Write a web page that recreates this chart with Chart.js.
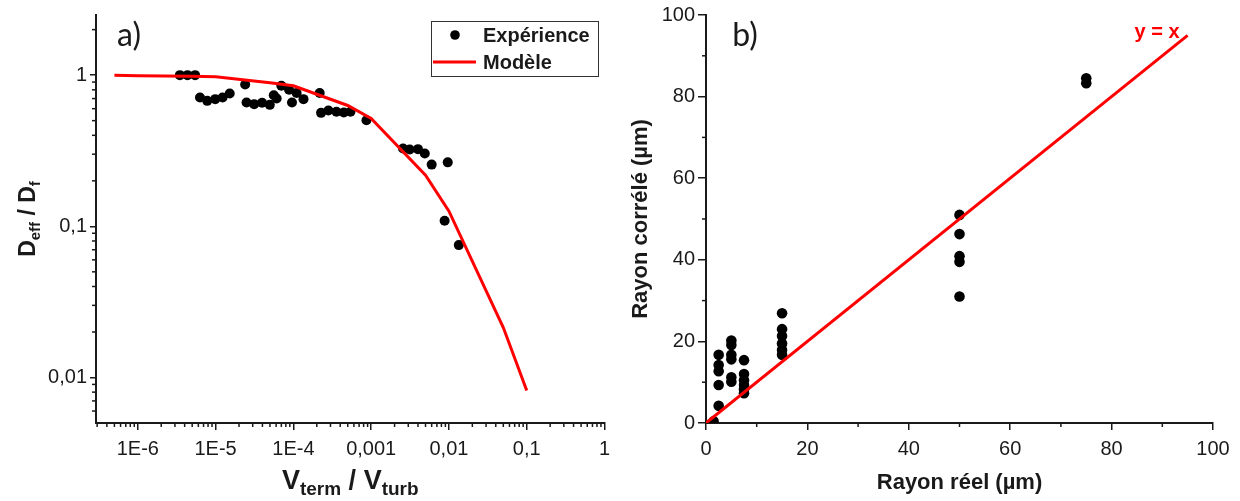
<!DOCTYPE html>
<html><head><meta charset="utf-8">
<script src="https://cdn.jsdelivr.net/npm/chart.js@4.4.1/dist/chart.umd.min.js"></script>
<style>
html,body{margin:0;padding:0;background:#fff;}
#wrap{position:relative;width:1240px;height:501px;overflow:hidden;}
#ca{position:absolute;left:0;top:0;}
#cb{position:absolute;left:620px;top:0;}
</style></head><body>
<div id="wrap">
<canvas id="ca" width="620" height="501"></canvas>
<canvas id="cb" width="620" height="501"></canvas>
</div>
<script>
// ---------- Panel a) data ----------
const expX = [3.47e-6,4.35e-6,5.45e-6,6.3e-6,7.8e-6,9.9e-6,1.23e-5,1.52e-5,2.4e-5,2.5e-5,3.13e-5,3.96e-5,4.98e-5,5.6e-5,6.1e-5,7.0e-5,8.8e-5,9.6e-5,1.10e-4,1.35e-4,2.18e-4,2.27e-4,2.82e-4,3.58e-4,4.45e-4,5.42e-4,8.7e-4,2.57e-3,3.13e-3,4.0e-3,4.89e-3,6.0e-3,8.8e-3,9.65e-3,1.34e-2];
const expY = [1.0,1.0,1.0,0.711,0.676,0.694,0.711,0.756,0.868,0.659,0.643,0.656,0.636,0.737,0.70,0.85,0.80,0.66,0.763,0.694,0.763,0.563,0.583,0.572,0.566,0.572,0.503,0.327,0.322,0.324,0.303,0.256,0.109,0.265,0.0751];
const modelX = [5e-7,1e-6,5e-6,1e-5,5e-5,1e-4,5e-4,1e-3,5e-3,1e-2,5e-2,1e-1];
const modelY = [1.0,0.99,0.985,0.975,0.89,0.85,0.63,0.517,0.218,0.126,0.0214,0.0082];
const aXTickVals = [1e-6,1e-5,1e-4,1e-3,1e-2,1e-1,1];
const aXTickLabels = ['1E-6','1E-5','1E-4','0,001','0,01','0,1','1'];
const aYTickVals = [0.01,0.1,1];
const aYTickLabels = ['0,01','0,1','1'];

// ---------- Panel b) data ----------
const reelX = [1.5,2.5,2.5,2.5,2.5,2.5, 5,5,5,5,5,5, 7.5,7.5,7.5,7.5,7.5,7.5, 15,15,15,15,15,15, 50,50,50,50,50, 75,75];
const correleY = [0.4,16.7,14.2,12.7,9.3,4.2, 20.2,19.1,16.7,15.6,11.2,10.1, 15.4,12.0,10.5,9.3,8.3,7.3, 26.9,23.0,21.3,19.5,17.9,16.7, 51.0,46.3,40.9,39.5,31.0, 84.5,83.3];
const identX = [0,95];
const identY = [0,95];
const bTickVals = [0,20,40,60,80,100];
const bMinorVals = [10,30,50,70,90];

const FONT = "'Liberation Sans', Arial, sans-serif";
const INK = '#1a1a1a';

function logMinor(minExp, maxExp, lo, hi){
  const out=[];
  for(let e=minExp;e<=maxExp;e++) for(let m=2;m<=9;m++){const v=m*Math.pow(10,e); if(v>lo&&v<hi) out.push(v);}
  return out;
}

function minorPlugin(list){
  return {id:'minor', afterDraw(chart){
    const ctx=chart.ctx; ctx.save(); ctx.strokeStyle=INK; ctx.lineWidth=1.5;
    for(const [id,vals,len] of list){
      const s=chart.scales[id];
      for(const v of vals){
        ctx.beginPath();
        if(s.isHorizontal()){const p=s.getPixelForValue(v); ctx.moveTo(p,s.top); ctx.lineTo(p,s.top+len);}
        else{const p=s.getPixelForValue(v); ctx.moveTo(s.right,p); ctx.lineTo(s.right-len,p);}
        ctx.stroke();
      }
    }
    ctx.restore();
  }};
}

// draws text pieces [text,size,dy] sequentially, centred at (cx,cy), optionally rotated
function drawRich(ctx, parts, cx, cy, rot){
  ctx.save();
  ctx.translate(cx,cy); if(rot) ctx.rotate(rot);
  ctx.fillStyle=INK; ctx.textBaseline='alphabetic'; ctx.textAlign='left';
  let w=0; for(const p of parts){ctx.font='bold '+p[1]+'px '+FONT; w+=ctx.measureText(p[0]).width;}
  let x=-w/2;
  for(const p of parts){ctx.font='bold '+p[1]+'px '+FONT; ctx.fillText(p[0],x,p[2]); x+=ctx.measureText(p[0]).width;}
  ctx.restore();
}

const gridOpt = {display:true, drawOnChartArea:false, drawTicks:true, tickLength:7, color:INK, lineWidth:1.5};
const borderOpt = {display:true, color:INK, width:2};
const tickFont = {family:FONT, size:20};

// ---------- Chart a ----------
const annotA = {id:'annotA', afterDraw(chart){
  const ctx=chart.ctx;
  const xs=chart.scales.x, ys=chart.scales.y;
  // axis titles
  drawRich(ctx, [['V',27,0],['term',19,6],[' / ',27,0],['V',27,0],['turb',19,6]], (xs.left+xs.right)/2, 489, 0);
  drawRich(ctx, [['D',23,0],['eff',15,5],[' / ',23,0],['D',23,0],['f',15,5]], 35, (ys.top+ys.bottom)/2, -Math.PI/2);
  // panel letter
  ctx.save(); ctx.fillStyle=INK; ctx.font="32px Lato, 'Open Sans', sans-serif"; ctx.textAlign='center'; ctx.textBaseline='middle';
  ctx.fillText('a)',129,36); ctx.restore();
  // legend
  ctx.save();
  ctx.strokeStyle='#333'; ctx.lineWidth=1; ctx.strokeRect(431.5,21.5,167,55);
  const ds=chart.data.datasets;
  ctx.fillStyle='#000'; ctx.beginPath(); ctx.arc(455,35,4.8,0,Math.PI*2); ctx.fill();
  ctx.strokeStyle='#ff0000'; ctx.lineWidth=3; ctx.beginPath(); ctx.moveTo(433,62); ctx.lineTo(476,62); ctx.stroke();
  ctx.fillStyle=INK; ctx.font='bold 20px '+FONT; ctx.textBaseline='middle'; ctx.textAlign='left';
  ctx.fillText(ds[1].label,483,36); ctx.fillText(ds[0].label,483,63);
  ctx.restore();
}};

new Chart(document.getElementById('ca'), {
  type:'scatter',
  data:{datasets:[
    {label:'Modèle', data:modelX.map((x,i)=>({x:x,y:modelY[i]})), showLine:true, borderColor:'#ff0000', backgroundColor:'#ff0000', borderWidth:3, pointRadius:0, tension:0, order:0},
    {label:'Expérience', data:expX.map((x,i)=>({x:x,y:expY[i]})), backgroundColor:'#000', borderColor:'#000', pointRadius:5, pointHoverRadius:5, borderWidth:0, order:1}
  ]},
  options:{
    responsive:false, animation:false, devicePixelRatio:1,
    layout:{padding:{left:0,top:15,right:15.5,bottom:0}},
    plugins:{legend:{display:false}, tooltip:{enabled:false}},
    scales:{
      x:{type:'logarithmic', position:'bottom', min:2.9e-7, max:1,
         afterBuildTicks:s=>{s.ticks=aXTickVals.map(v=>({value:v}));},
         afterFit:s=>{s.height=78;},
         ticks:{callback:(v,i)=>aXTickLabels[i], font:tickFont, color:INK, padding:7, maxRotation:0, autoSkip:false},
         grid:gridOpt, border:borderOpt},
      y:{type:'logarithmic', position:'left', min:0.005, max:2.5,
         afterBuildTicks:s=>{s.ticks=aYTickVals.map(v=>({value:v}));},
         afterFit:s=>{s.width=96;},
         ticks:{callback:(v,i)=>aYTickLabels[i], font:tickFont, color:INK, padding:3, autoSkip:false},
         grid:Object.assign({},gridOpt,{tickLength:6}), border:borderOpt}
    }
  },
  plugins:[minorPlugin([['x',logMinor(-7,0,2.9e-7,1),4],['y',logMinor(-3,0,0.005,2.5),4]]), annotA]
});

// ---------- Chart b ----------
const annotB = {id:'annotB', afterDraw(chart){
  const ctx=chart.ctx;
  ctx.save(); ctx.fillStyle=INK; ctx.font="32px Lato, 'Open Sans', sans-serif"; ctx.textAlign='center'; ctx.textBaseline='middle';
  ctx.fillText('b)',125,36);
  ctx.fillStyle='#ff0000'; ctx.font='bold 20px '+FONT; ctx.fillText('y = x',537,32);
  ctx.restore();
}};

new Chart(document.getElementById('cb'), {
  type:'scatter',
  data:{datasets:[
    {label:'y = x', data:identX.map((x,i)=>({x:x,y:identY[i]})), showLine:true, borderColor:'#ff0000', borderWidth:3, pointRadius:0, order:0},
    {label:'Rayon corrélé', data:reelX.map((x,i)=>({x:x,y:correleY[i]})), backgroundColor:'#000', borderColor:'#000', pointRadius:5.3, pointHoverRadius:5.3, borderWidth:0, order:1}
  ]},
  options:{
    responsive:false, animation:false, devicePixelRatio:1,
    layout:{padding:{left:0,top:15,right:27,bottom:0}},
    plugins:{legend:{display:false}, tooltip:{enabled:false}},
    scales:{
      x:{type:'linear', position:'bottom', min:0, max:100,
         afterBuildTicks:s=>{s.ticks=bTickVals.map(v=>({value:v}));},
         afterFit:s=>{s.height=78;},
         ticks:{font:tickFont, color:INK, padding:7, maxRotation:0, autoSkip:false},
         title:{display:true, text:'Rayon réel (µm)', font:{family:FONT,size:22,weight:'bold'}, color:INK, padding:{top:0,bottom:5}},
         grid:gridOpt, border:borderOpt},
      y:{type:'linear', position:'left', min:0, max:100,
         afterBuildTicks:s=>{s.ticks=bTickVals.map(v=>({value:v}));},
         afterFit:s=>{s.width=86;},
         ticks:{font:tickFont, color:INK, padding:3, autoSkip:false},
         title:{display:true, text:'Rayon corrélé (µm)', font:{family:FONT,size:22,weight:'bold'}, color:INK, padding:{top:8,bottom:0}},
         grid:Object.assign({},gridOpt,{tickLength:8}), border:borderOpt}
    }
  },
  plugins:[minorPlugin([['x',bMinorVals,4],['y',bMinorVals,4]]), annotB]
});
</script>
</body></html>
